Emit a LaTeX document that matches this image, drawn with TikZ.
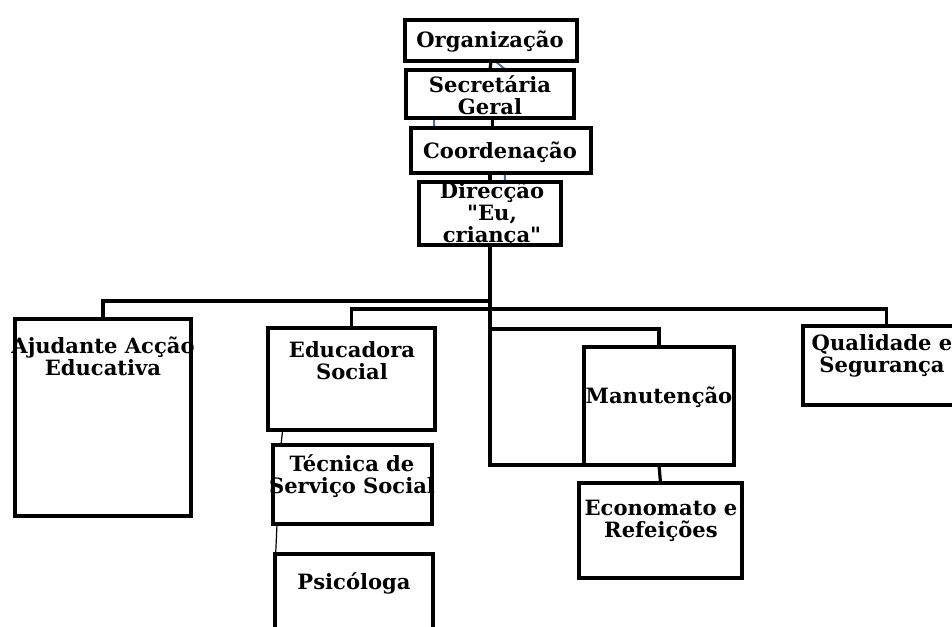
\documentclass[tikz,border=0pt]{standalone}
\usepackage{fontspec}
\setmainfont{DejaVu Serif}[Ligatures=TeXOff]
\usetikzlibrary{backgrounds}
\definecolor{linkblue}{HTML}{4A6E9C}
\tikzset{
  x=0.75pt, y=-0.75pt,
  box/.style={draw=black, line width=3pt, fill=white, inner sep=0pt, outer sep=0pt},
  lbl/.style={font=\fontsize{15.8}{16.5}\selectfont\bfseries, align=center, inner sep=0pt},
  link/.style={draw=black, line width=2.4pt},
  thinlink/.style={draw=black, line width=0.9pt},
  bluelink/.style={draw=linkblue, line width=1.5pt}
}
\begin{document}
\begin{tikzpicture}
\useasboundingbox (0,0) rectangle (952,626);
\clip (0,0) rectangle (952,626);
% boxes
\node[box, minimum width=129pt, minimum height=30.75pt] (org) at (491,40.5) {};
\node[box, minimum width=126pt, minimum height=36pt] (sec) at (490,94) {};
\node[box, minimum width=135pt, minimum height=33.75pt] (coo) at (501,150.5) {};
\node[box, minimum width=106.5pt, minimum height=47.25pt] (dir) at (490,213.5) {};
\node[box, minimum width=132pt, minimum height=147.75pt] (aju) at (103,417.5) {};
\node[box, minimum width=125.25pt, minimum height=76.5pt] (edu) at (351.5,379) {};
\node[box, minimum width=119.25pt, minimum height=59.25pt] (tec) at (352.5,484.5) {};
\node[box, minimum width=118.5pt, minimum height=109.5pt] (psi) at (354,627) {};
\node[box, minimum width=112.5pt, minimum height=88.5pt] (man) at (659,406) {};
\node[box, minimum width=122.25pt, minimum height=71.25pt] (eco) at (660.5,530.5) {};
\node[box, minimum width=125.25pt, minimum height=59.25pt] (qua) at (886.5,365.5) {};
% labels
\node[lbl] (torg) at (490,41) {Organização};
\node[lbl] (tsec) at (490,95) {Secretária\\Geral};
\node[lbl] (tcoo) at (500,152) {Coordenação};
\node[lbl] (tdir) at (492,214) {Direcção\\"Eu,\\criança"};
\node[lbl] (taju) at (103,356) {Ajudante Acção\\Educativa};
\node[lbl] (tedu) at (352,361) {Educadora\\Social};
\node[lbl] (ttec) at (352,476) {Técnica de\\Serviço Social};
\node[lbl] (tpsi) at (354,583) {Psicóloga};
\node[lbl] (tman) at (659,397) {Manutenção};
\node[lbl] (teco) at (661,521) {Economato e\\Refeições};
\node[lbl] (tqua) at (882,356) {Qualidade e\\Segurança};
% junction coordinates
\coordinate (b1) at (490,301);
\coordinate (b2) at (490,309);
\coordinate (b3) at (490,329);
\begin{pgfonlayer}{background}
\draw[bluelink] ([xshift=3pt]org.south) -- ([xshift=12pt]sec.north);
\draw[bluelink] ([xshift=-42pt]sec.south) -- ([xshift=-50pt]coo.north);
\draw[bluelink] ([xshift=3pt]coo.south) -- ([xshift=11pt]dir.north);
\draw[link] (org.south) -- (sec.north);
\draw[link] ([xshift=2pt]sec.south) -- ([xshift=-6.25pt]coo.north);
\draw[link] ([xshift=-8.25pt]coo.south) -- (dir.north);
\draw[link] (dir.south) |- (man.south west);
\draw[link] (aju.north) |- (b1);
\draw[link] (edu.north) |- (b2) -| (qua.north);
\draw[link] (b3) -| (man.north);
\draw[link] (man.south) -- (eco.north);
\draw[thinlink] ([xshift=11pt]edu.south west) -- ([xshift=6pt]tec.north west);
\draw[thinlink] ([xshift=3pt]tec.south west) -- ([xshift=0.5pt]psi.north west);
\end{pgfonlayer}
\end{tikzpicture}
\end{document}
